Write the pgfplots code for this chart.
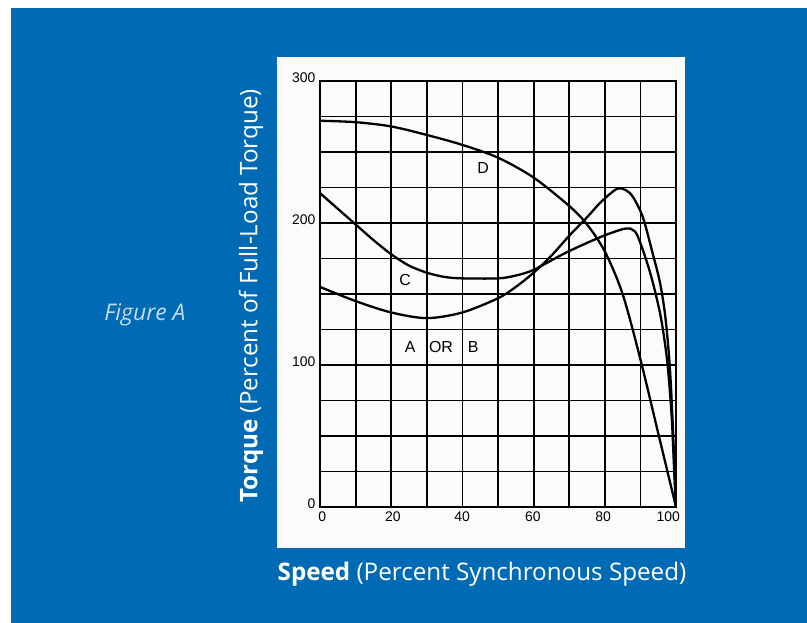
\documentclass[border=0pt]{standalone}
\usepackage{fontspec}
\setmainfont{Open Sans}
\newfontfamily\arial{Liberation Sans}
\usepackage{pgfplots}
\pgfplotsset{compat=1.18}
\definecolor{bgblue}{RGB}{0,107,180}
\definecolor{figtxt}{RGB}{195,218,240}
\definecolor{panel}{RGB}{253,250,252}
\begin{document}
\begin{tikzpicture}
\fill[white] (0,0) rectangle (807bp,623bp);
\fill[bgblue] (11bp,0) rectangle (807bp,615bp);
\fill[panel] (277bp,75bp) rectangle (685bp,566bp);
\begin{axis}[
  at={(320bp,116bp)}, anchor=south west,
  scale only axis, width=356bp, height=426bp,
  xmin=0, xmax=100, ymin=0, ymax=300,
  axis line style={black, line width=1.8bp},
  xtick={0.6,20.5,39.9,59.8,79.5,97.8},
  xticklabels={0,20,40,60,80,100},
  ytick={0,100,200,300},
  minor xtick={0,10,...,100},
  minor ytick={0,25,...,300},
  xmajorgrids=false, ymajorgrids=false,
  xminorgrids=true, yminorgrids=true,
  minor grid style={black, line width=1.8bp},
  major tick length=0pt, minor tick length=0pt,
  /pgf/number format/assume math mode=true,
  ticklabel style={font=\arial\fontsize{14}{14}\selectfont, black},
  xticklabel style={yshift=-1bp},
  yticklabel style={yshift=3.5bp, xshift=-1bp},
]
\addplot[black, line width=2.3bp, smooth, tension=0.5] coordinates {
(0,272) (10,271) (20,268) (30,262) (40,255) (50,246) (60,232) (70,212) (75,199) (80,180) (85,150) (90,104) (95,52) (100,0)};
\addplot[black, line width=2.3bp, smooth, tension=0.5] coordinates {
(0,155) (10,145) (20,137) (30,133) (40,137) (50,147) (55,155) (60,165) (65,177) (70,191) (75,204) (79,215) (83.4,224) (86,223) (88,218) (90.7,204) (93.3,180) (95.5,158) (97,134) (98.2,101) (99,63) (99.6,25) (100,0)};
\addplot[black, line width=2.3bp, smooth, tension=0.5] coordinates {
(0,221) (5,210) (10,199) (15,188) (20,178) (25,170) (30,165) (35,162) (40,161) (50,161) (55,163) (60,167) (69,179) (78.7,190) (85.7,196) (88.5,194) (90.4,183) (92.5,167) (94.3,150) (96,130) (97.6,101) (98.8,63) (99.5,25) (100,0)};
\node[font=\arial\fontsize{16}{16}\selectfont] at (axis cs:45.8,239) {D};
\node[font=\arial\fontsize{16}{16}\selectfont] at (axis cs:23.9,160) {C};
\node[font=\arial\fontsize{16}{16}\selectfont] at (axis cs:25.3,113) {A};
\node[font=\arial\fontsize{16}{16}\selectfont] at (axis cs:34.0,113) {OR};
\node[font=\arial\fontsize{16}{16}\selectfont] at (axis cs:43.0,113) {B};
\end{axis}
\node[white, font=\fontsize{24.3}{28}\selectfont] at (482bp,49bp) {\textbf{Speed} (Percent Synchronous Speed)};
\node[white, rotate=90, font=\fontsize{24.3}{28}\selectfont] at (251bp,327bp) {\textbf{Torque} (Percent of Full-Load Torque)};
\node[figtxt, font=\itshape\fontsize{23}{27}\selectfont] at (145bp,308bp) {Figure A};
\end{tikzpicture}
\end{document}
